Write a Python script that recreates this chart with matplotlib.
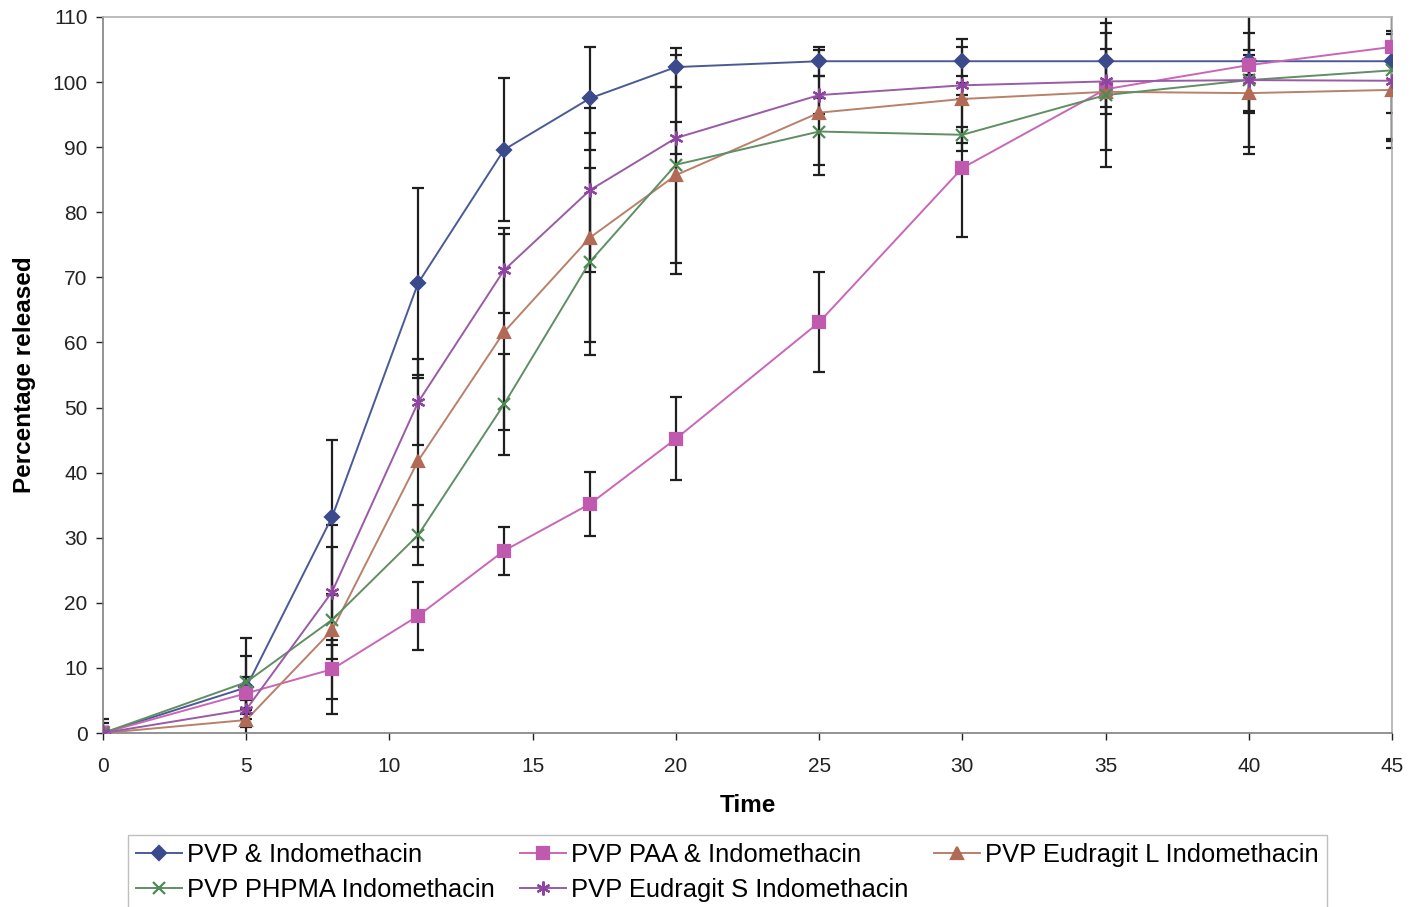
import matplotlib
matplotlib.use("Agg")
import matplotlib.pyplot as plt

plt.rcParams['font.family'] = ['Liberation Sans', 'DejaVu Sans']

time = [0, 5, 8, 11, 14, 17, 20, 25, 30, 35, 40, 45]

pvp = [0, 7.0, 33.2, 69.1, 89.6, 97.5, 102.3, 103.2, 103.2, 103.2, 103.2, 103.2]
pvp_err = [2.2, 7.6, 11.8, 14.6, 11.0, 7.9, 3.0, 2.2, 3.4, 7.0, 8.0, 12.0]

paa = [0, 6.1, 9.8, 18.0, 28.0, 35.2, 45.2, 63.1, 86.8, 98.9, 102.6, 105.4]
paa_err = [1.0, 2.5, 4.5, 5.2, 3.7, 4.9, 6.4, 7.7, 10.6, 1.0, 1.5, 2.0]

eud_l = [0, 2.0, 15.8, 41.8, 61.6, 76.1, 85.7, 95.3, 97.4, 98.5, 98.3, 98.8]
eud_l_err = [1.0, 1.0, 12.8, 13.2, 15.0, 16.0, 13.5, 9.6, 8.0, 9.0, 9.3, 9.0]

phpma = [0, 7.8, 17.4, 30.4, 50.5, 72.4, 87.3, 92.4, 91.9, 98.0, 100.3, 101.8]
phpma_err = [1.5, 4.0, 3.8, 4.6, 7.8, 14.4, 16.8, 5.2, 1.2, 11.0, 10.3, 10.8]

eud_s = [0, 3.6, 21.7, 50.8, 71.1, 83.4, 91.4, 98.0, 99.5, 100.1, 100.3, 100.2]
eud_s_err = [1.0, 1.5, 10.3, 6.6, 6.5, 12.6, 2.5, 2.9, 1.5, 5.0, 4.7, 5.0]

labels = ["PVP & Indomethacin", "PVP PAA & Indomethacin", "PVP Eudragit L Indomethacin",
          "PVP PHPMA Indomethacin", "PVP Eudragit S Indomethacin"]

fig = plt.figure(figsize=(14.18, 9.07), dpi=100)
ax = fig.add_axes([0.0726, 0.1918, 0.9091, 0.7895])

series = [
    (pvp, pvp_err, labels[0], "#4a5a96", "#3b4a8a", "D", 7),
    (paa, paa_err, labels[1], "#c867b8", "#c05aae", "s", 9),
    (eud_l, eud_l_err, labels[2], "#b9806a", "#b06a55", "^", 8),
    (phpma, phpma_err, labels[3], "#5f8f62", "#4f8a55", "x", 8),
    (eud_s, eud_s_err, labels[4], "#9a5aa6", "#8e45a0", (6, 2, 0), 10),
]

handles = {}
for vals, errs, lab, lc, mc, mk, ms in series:
    ax.errorbar(time, vals, yerr=errs, fmt="none", ecolor="#1f1f1f",
                elinewidth=1.6, capsize=4.5, capthick=1.6, zorder=2)
    h, = ax.plot(time, vals, color=lc, lw=1.4, marker=mk, markersize=ms,
                 markerfacecolor=mc, markeredgecolor=mc, markeredgewidth=1.6,
                 label=lab, zorder=3)
    handles[lab] = h

ax.set_xlim(0, 45)
ax.set_ylim(0, 110)
ax.set_xticks(range(0, 46, 5))
ax.set_yticks(range(0, 111, 10))
ax.tick_params(axis="both", labelsize=15, colors="#222222", length=5, width=1,
               direction="out", pad=6)
ax.tick_params(axis="x", pad=12)
for side in ("top", "right"):
    ax.spines[side].set_color("#b0b0b0")
for side in ("left", "bottom"):
    ax.spines[side].set_color("#808080")
for s in ax.spines.values():
    s.set_linewidth(1.2)

ax.set_xlabel("Time", fontsize=17.5, fontweight="bold", labelpad=13)
ax.set_ylabel("Percentage released", fontsize=17.5, fontweight="bold", labelpad=12)

order = [labels[0], labels[3], labels[1], labels[4], labels[2]]
leg = fig.legend([handles[k] for k in order], order, ncol=3,
                 loc="upper left", bbox_to_anchor=(0.0903, 0.0794),
                 fontsize=18.4, frameon=True, fancybox=False, borderpad=0.3,
                 handlelength=1.8, handletextpad=0.2, columnspacing=1.0,
                 labelspacing=0.45, borderaxespad=0)
leg.get_frame().set_edgecolor("#b0b0b0")
leg.get_frame().set_linewidth(1.0)

fig.savefig("out.png", dpi=100)
